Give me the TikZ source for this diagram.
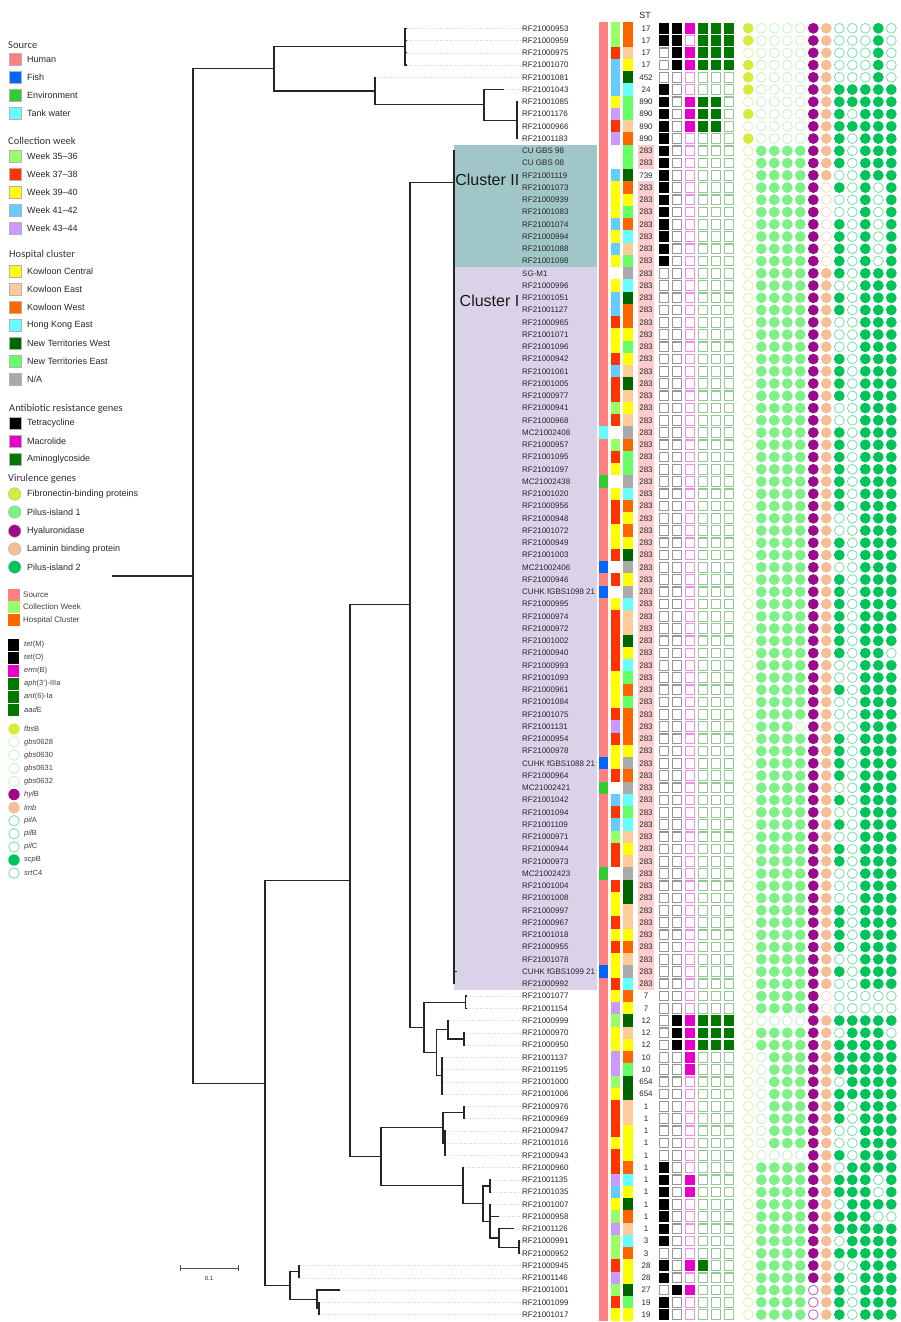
\documentclass[tikz,border=0pt]{standalone}
\usepackage{fontspec}
\setmainfont{Liberation Sans}
\newfontfamily\headfont{Carlito}
\usetikzlibrary{calc}

% strip colours
\definecolor{srcH}{RGB}{255,128,128}
\definecolor{srcF}{RGB}{0,102,255}
\definecolor{srcE}{RGB}{51,204,51}
\definecolor{srcT}{RGB}{102,255,255}
\definecolor{wka}{RGB}{153,255,102}
\definecolor{wkb}{RGB}{255,51,0}
\definecolor{wkc}{RGB}{255,255,0}
\definecolor{wkd}{RGB}{102,204,255}
\definecolor{wke}{RGB}{204,153,255}
\definecolor{wkn}{RGB}{255,255,255}
\definecolor{hcy}{RGB}{255,255,0}
\definecolor{hcp}{RGB}{255,204,153}
\definecolor{hco}{RGB}{255,102,0}
\definecolor{hch}{RGB}{102,255,255}
\definecolor{hcw}{RGB}{0,102,0}
\definecolor{hcg}{RGB}{102,255,102}
\definecolor{hcx}{RGB}{170,170,170}
% gene colours (f = present, e = absent ring)
\definecolor{tetf}{RGB}{0,0,0}
\definecolor{tete}{RGB}{150,150,150}
\definecolor{ermf}{RGB}{230,0,200}
\definecolor{erme}{RGB}{240,140,225}
\definecolor{amif}{RGB}{0,120,0}
\definecolor{amie}{RGB}{150,200,150}
\definecolor{fbsf}{RGB}{215,235,60}
\definecolor{fbse}{RGB}{230,242,170}
\definecolor{gbsf}{RGB}{125,240,135}
\definecolor{gbse}{RGB}{200,245,200}
\definecolor{hylf}{RGB}{155,10,140}
\definecolor{hyle}{RGB}{200,100,200}
\definecolor{lmbf}{RGB}{245,190,150}
\definecolor{lmbe}{RGB}{250,220,205}
\definecolor{pilf}{RGB}{0,195,90}
\definecolor{pile}{RGB}{130,225,175}
\definecolor{stpink}{RGB}{252,205,205}
\definecolor{clusII}{RGB}{160,198,200}
\definecolor{clusI}{RGB}{217,210,233}

% one square / circle of the gene table
\newcommand{\genesq}[4]{%
  \ifnum#2=1\relax \fill[#3] (#1-5.3,\ry-5.3) rectangle (#1+5.3,\ry+5.3);
  \else \draw[#4,line width=1.2pt] (#1-4.8,\ry-4.8) rectangle (#1+4.8,\ry+4.8);\fi}
\newcommand{\genecirc}[4]{%
  \ifnum#2=1\relax \fill[#3] (#1,\ry) circle[radius=5.4pt];
  \else \draw[#4,line width=0.9pt] (#1,\ry) circle[radius=4.9pt];\fi}
\def\sqcells#1#2#3#4#5#6{%
  \genesq{664}{#1}{tetf}{tete}\genesq{677}{#2}{tetf}{tete}%
  \genesq{690}{#3}{ermf}{erme}\genesq{703}{#4}{amif}{amie}%
  \genesq{716}{#5}{amif}{amie}\genesq{729}{#6}{amif}{amie}}
\def\circells#1#2#3#4#5#6#7#8#9{%
  \genecirc{748.3}{#1}{fbsf}{fbse}\genecirc{761.3}{#2}{gbsf}{gbse}%
  \genecirc{774.3}{#3}{gbsf}{gbse}\genecirc{787.3}{#4}{gbsf}{gbse}%
  \genecirc{800.3}{#5}{gbsf}{gbse}\genecirc{813.3}{#6}{hylf}{hyle}%
  \genecirc{826.3}{#7}{lmbf}{lmbe}\genecirc{839.3}{#8}{pilf}{pile}%
  \genecirc{852.3}{#9}{pilf}{pile}\circellsb}
\def\circellsb#1#2#3{%
  \genecirc{865.3}{#1}{pilf}{pile}\genecirc{878.3}{#2}{pilf}{pile}%
  \genecirc{891.3}{#3}{pilf}{pile}}
% row: number, tip x, label, source, week, hospital, ST, squares, circles
\newcommand{\leafrow}[9]{%
  \pgfmathsetmacro{\ry}{28.3+(#1-1)*12.25}%
  \coordinate (t#1) at (#2,\ry);
  \node[leaflab] (l#1) at (522,\ry) {#3};
  \ifnum#1<11 \draw[leafdot] (t#1) -- (l#1.west);\fi
  \ifnum#1>79 \draw[leafdot] (t#1) -- (l#1.west);\fi
  \fill[src#4] (599,\ry-6.13) rectangle (608,\ry+6.13);
  \fill[wk#5] (611,\ry-6.13) rectangle (620,\ry+6.13);
  \fill[hc#6] (623,\ry-6.13) rectangle (633,\ry+6.13);
  \ifnum#7=283 \fill[stpink] (638,\ry-6.13) rectangle (654,\ry+6.13);\fi
  \node[stlab] (s#1) at (646,\ry) {#7};
  \sqcells#8%
  \circells#9%
}

\begin{document}
\begin{tikzpicture}[x=1pt,y=-1pt,
  leaflab/.style={anchor=west,inner sep=0pt,text=black!85,font=\fontsize{8}{9}\selectfont},
  stlab/.style={inner sep=0pt,text=black!85,font=\fontsize{8}{9}\selectfont},
  leafdot/.style={black!18,dotted,line width=0.5pt},
  branch/.style={black!85,line width=1.2pt},
  headlab/.style={anchor=west,inner sep=0pt,text=black!80,font=\headfont\fontsize{10.5}{12}\selectfont},
  keylab/.style={anchor=west,inner sep=0pt,text=black!85,font=\fontsize{9}{10}\selectfont},
  smallkey/.style={anchor=west,inner sep=0pt,text=black!75,font=\fontsize{7.5}{9}\selectfont},
  clusterlab/.style={anchor=east,inner sep=0pt,text=black!90,font=\fontsize{16}{18}\selectfont}]
\useasboundingbox (0,0) rectangle (900,1322);
% cluster shading
\fill[clusII] (454,144.7) rectangle (597,267.2);
\fill[clusI] (454,267.2) rectangle (597,989.9);
\node[stlab,font=\fontsize{9}{10}\selectfont] (sthead) at (645,15) {ST};
% the leaves
\leafrow{1}{407}{RF21000953}{H}{a}{o}{17}{111111}{100001100010}
\leafrow{2}{407}{RF21000959}{H}{a}{o}{17}{110111}{100001100010}
\leafrow{3}{407}{RF21000975}{H}{b}{p}{17}{011111}{000001100010}
\leafrow{4}{407}{RF21001070}{H}{d}{y}{17}{011111}{100001100010}
\leafrow{5}{376}{RF21001081}{H}{d}{w}{452}{000000}{100001100010}
\leafrow{6}{504}{RF21001043}{H}{d}{h}{24}{100000}{100001111111}
\leafrow{7}{518}{RF21001085}{H}{c}{g}{890}{101110}{000001111111}
\leafrow{8}{518}{RF21001176}{H}{e}{g}{890}{101110}{100001110111}
\leafrow{9}{518}{RF21000966}{H}{b}{p}{890}{101110}{000001111111}
\leafrow{10}{518}{RF21001183}{H}{e}{o}{890}{100000}{100001110111}
%     cluster II
\leafrow{11}{455}{CU GBS 98}{H}{n}{g}{283}{100000}{011111110111}
\leafrow{12}{455}{CU GBS 08}{H}{n}{g}{283}{100000}{011111110111}
\leafrow{13}{455}{RF21001119}{H}{d}{w}{739}{100000}{011111100111}
\leafrow{14}{455}{RF21001073}{H}{c}{o}{283}{100000}{011111010101}
\leafrow{15}{455}{RF21000939}{H}{c}{y}{283}{100000}{011111000101}
\leafrow{16}{455}{RF21001083}{H}{c}{g}{283}{100000}{011111000101}
\leafrow{17}{455}{RF21001074}{H}{d}{o}{283}{100000}{011111010101}
\leafrow{18}{455}{RF21000994}{H}{c}{h}{283}{100000}{011111010101}
\leafrow{19}{455}{RF21001088}{H}{d}{p}{283}{100000}{011111010101}
\leafrow{20}{455}{RF21001098}{H}{c}{g}{283}{100000}{011111010101}
%     cluster I
\leafrow{21}{455}{SG-M1}{H}{n}{x}{283}{000000}{011111110111}
\leafrow{22}{455}{RF21000996}{H}{c}{h}{283}{000000}{011111100111}
\leafrow{23}{455}{RF21001051}{H}{d}{w}{283}{000000}{011111110111}
\leafrow{24}{455}{RF21001127}{H}{d}{o}{283}{000000}{011111110111}
\leafrow{25}{455}{RF21000965}{H}{b}{o}{283}{000000}{011111100111}
\leafrow{26}{455}{RF21001071}{H}{c}{y}{283}{000000}{011111100111}
\leafrow{27}{455}{RF21001096}{H}{c}{g}{283}{000000}{011111100111}
\leafrow{28}{455}{RF21000942}{H}{b}{y}{283}{000000}{011111110111}
\leafrow{29}{455}{RF21001061}{H}{d}{p}{283}{000000}{011111110111}
\leafrow{30}{455}{RF21001005}{H}{b}{w}{283}{000000}{011111110111}
\leafrow{31}{455}{RF21000977}{H}{b}{p}{283}{000000}{011111110111}
\leafrow{32}{455}{RF21000941}{H}{a}{y}{283}{000000}{011111100111}
\leafrow{33}{455}{RF21000968}{H}{b}{p}{283}{000000}{011111100111}
\leafrow{34}{455}{MC21002408}{T}{n}{x}{283}{000000}{011111110111}
\leafrow{35}{455}{RF21000957}{H}{a}{o}{283}{000000}{011111110111}
\leafrow{36}{455}{RF21001095}{H}{b}{g}{283}{000000}{011111110111}
\leafrow{37}{455}{RF21001097}{H}{c}{g}{283}{000000}{011111110111}
\leafrow{38}{455}{MC21002438}{E}{n}{x}{283}{000000}{011111110111}
\leafrow{39}{455}{RF21001020}{H}{c}{h}{283}{000000}{011111110111}
\leafrow{40}{455}{RF21000956}{H}{b}{o}{283}{000000}{011111110111}
\leafrow{41}{455}{RF21000948}{H}{b}{y}{283}{000000}{011111100111}
\leafrow{42}{455}{RF21001072}{H}{c}{o}{283}{000000}{011111100111}
\leafrow{43}{455}{RF21000949}{H}{c}{y}{283}{000000}{011111110111}
\leafrow{44}{455}{RF21001003}{H}{b}{w}{283}{000000}{011111110111}
\leafrow{45}{455}{MC21002406}{F}{n}{x}{283}{000000}{011111100111}
\leafrow{46}{455}{RF21000946}{H}{b}{y}{283}{000000}{011111110111}
\leafrow{47}{455}{CUHK fGBS1098 21}{F}{n}{x}{283}{000000}{011111110111}
\leafrow{48}{455}{RF21000995}{H}{c}{h}{283}{000000}{011111110111}
\leafrow{49}{455}{RF21000974}{H}{b}{p}{283}{000000}{011111110111}
\leafrow{50}{455}{RF21000972}{H}{b}{p}{283}{000000}{011111110111}
\leafrow{51}{455}{RF21001002}{H}{b}{w}{283}{000000}{011111110111}
\leafrow{52}{455}{RF21000940}{H}{b}{y}{283}{000000}{011111110110}
\leafrow{53}{455}{RF21000993}{H}{b}{h}{283}{000000}{011111100111}
\leafrow{54}{455}{RF21001093}{H}{c}{g}{283}{000000}{011111100111}
\leafrow{55}{455}{RF21000961}{H}{c}{o}{283}{000000}{011111110111}
\leafrow{56}{455}{RF21001084}{H}{c}{g}{283}{000000}{011111100111}
\leafrow{57}{455}{RF21001075}{H}{b}{o}{283}{000000}{011111100111}
\leafrow{58}{455}{RF21001131}{H}{e}{o}{283}{000000}{011101100111}
\leafrow{59}{455}{RF21000954}{H}{b}{o}{283}{000000}{011111110111}
\leafrow{60}{455}{RF21000978}{H}{c}{y}{283}{000000}{011111110111}
\leafrow{61}{455}{CUHK fGBS1088 21}{F}{c}{x}{283}{000000}{011111110111}
\leafrow{62}{455}{RF21000964}{H}{b}{o}{283}{000000}{011111110111}
\leafrow{63}{455}{MC21002421}{E}{n}{x}{283}{000000}{011111100111}
\leafrow{64}{455}{RF21001042}{H}{d}{h}{283}{000000}{011111110111}
\leafrow{65}{455}{RF21001094}{H}{b}{g}{283}{000000}{011111100111}
\leafrow{66}{455}{RF21001109}{H}{d}{h}{283}{000000}{011111110111}
\leafrow{67}{455}{RF21000971}{H}{a}{p}{283}{000000}{011111100111}
\leafrow{68}{455}{RF21000944}{H}{b}{y}{283}{000000}{011111110111}
\leafrow{69}{455}{RF21000973}{H}{b}{p}{283}{000000}{011111110111}
\leafrow{70}{455}{MC21002423}{E}{n}{x}{283}{000000}{011111100111}
\leafrow{71}{455}{RF21001004}{H}{b}{w}{283}{000000}{011111100111}
\leafrow{72}{455}{RF21001008}{H}{c}{w}{283}{000000}{011111100111}
\leafrow{73}{455}{RF21000997}{H}{c}{p}{283}{000000}{011111110111}
\leafrow{74}{455}{RF21000967}{H}{b}{p}{283}{000000}{011111110111}
\leafrow{75}{455}{RF21001018}{H}{c}{y}{283}{000000}{011111110111}
\leafrow{76}{455}{RF21000955}{H}{b}{o}{283}{000000}{011111110111}
\leafrow{77}{455}{RF21001078}{H}{c}{p}{283}{000000}{011111100111}
\leafrow{78}{457}{CUHK fGBS1099 21}{F}{c}{x}{283}{000000}{011111110111}
\leafrow{79}{455}{RF21000992}{H}{b}{h}{283}{000000}{011111100111}
%     below the clusters
\leafrow{80}{467}{RF21001077}{H}{c}{o}{7}{000000}{011111000000}
\leafrow{81}{467}{RF21001154}{H}{e}{y}{7}{000000}{011111000000}
\leafrow{82}{449}{RF21000999}{H}{a}{w}{12}{011111}{000001111111}
\leafrow{83}{465}{RF21000970}{H}{c}{p}{12}{011111}{011111101110}
\leafrow{84}{465}{RF21000950}{H}{c}{y}{12}{011111}{011111111111}
\leafrow{85}{443}{RF21001137}{H}{e}{o}{10}{001000}{001111111111}
\leafrow{86}{443}{RF21001195}{H}{e}{g}{10}{001000}{001111111111}
\leafrow{87}{443}{RF21001000}{H}{a}{w}{654}{000000}{001111101111}
\leafrow{88}{443}{RF21001006}{H}{c}{w}{654}{000000}{001111111111}
\leafrow{89}{465}{RF21000976}{H}{b}{p}{1}{000000}{001111110111}
\leafrow{90}{465}{RF21000969}{H}{b}{p}{1}{000000}{001111110111}
\leafrow{91}{446}{RF21000947}{H}{b}{y}{1}{000000}{001111100111}
\leafrow{92}{446}{RF21001016}{H}{c}{y}{1}{000000}{001111100111}
\leafrow{93}{446}{RF21000943}{H}{b}{y}{1}{000000}{000001110111}
\leafrow{94}{464}{RF21000960}{H}{b}{o}{1}{100000}{011111101111}
\leafrow{95}{491}{RF21001135}{H}{e}{h}{1}{101000}{011111111101}
\leafrow{96}{491}{RF21001035}{H}{d}{y}{1}{101000}{011111111101}
\leafrow{97}{491}{RF21001007}{H}{c}{w}{1}{100000}{011111101111}
\leafrow{98}{499}{RF21000958}{H}{a}{o}{1}{100000}{011111111100}
\leafrow{99}{514}{RF21001126}{H}{e}{p}{1}{100000}{011111111111}
\leafrow{100}{520}{RF21000991}{H}{a}{h}{3}{100000}{011111101111}
\leafrow{101}{520}{RF21000952}{H}{a}{o}{3}{000000}{011111111111}
\leafrow{102}{300}{RF21000945}{H}{b}{y}{28}{101100}{011111100111}
\leafrow{103}{300}{RF21001146}{H}{e}{y}{28}{100000}{011111110111}
\leafrow{104}{340}{RF21001001}{H}{a}{w}{27}{011000}{011110110111}
\leafrow{105}{320}{RF21001099}{H}{b}{g}{19}{100000}{011110110111}
\leafrow{106}{320}{RF21001017}{H}{c}{y}{19}{100000}{011110110111}
% inner nodes of the tree
\coordinate (stub) at (112,576);
\coordinate (root) at (193,576);
\coordinate (nA) at (405,46.68);
\coordinate (nB) at (517,120.18);
\coordinate (nC) at (484,104.86);
\coordinate (nD) at (375,91.08);
\coordinate (nE) at (274,68.88);
\coordinate (nF) at (265,1083.11);
\coordinate (nS) at (350,880.76);
\coordinate (nM) at (410,604.87);
\coordinate (nK) at (454,182.3);
\coordinate (nL) at (424,1027.44);
\coordinate (nG) at (465.7,1002.18);
\coordinate (nJ) at (436.7,1052.7);
\coordinate (nH) at (448,1029.74);
\coordinate (nH1) at (464,1038.93);
\coordinate (nI) at (442,1075.68);
\coordinate (nR) at (381,1156.65);
\coordinate (nP) at (443,1127.74);
\coordinate (nP1) at (464,1112.43);
\coordinate (nP2) at (445,1143.05);
\coordinate (nQ) at (463,1185.55);
\coordinate (nQ5) at (483,1203.54);
\coordinate (nQ1) at (490,1185.93);
\coordinate (nQ4) at (490,1221.15);
\coordinate (nQ2) at (499,1237.99);
\coordinate (nQ3) at (519,1247.18);
\coordinate (nT) at (290,1285.46);
\coordinate (nT1) at (299,1271.68);
\coordinate (nT2) at (317,1299.24);
\coordinate (nT3) at (319,1308.43);
% branches
\draw[branch] (stub) -- (root);
\draw[branch] (root) |- (nE) (root) |- (nF);
\draw[branch] (nE) |- (nA) (nE) |- (nD);
\foreach \k in {1,...,4} \draw[branch] (nA) |- (t\k);
\draw[branch] (nD) |- (t5) (nD) |- (nC);
\draw[branch] (nC) |- (t6) (nC) |- (nB);
\foreach \k in {7,...,10} \draw[branch] (nB) |- (t\k);
\draw[branch] (nF) |- (nS) (nF) |- (nT);
\draw[branch] (nS) |- (nM) (nS) |- (nR);
\draw[branch] (nM) |- (nK) (nM) |- (nL);
\foreach \k in {11,...,79} \draw[branch] (nK) |- (t\k);
\draw[branch] (nL) |- (nG) (nL) |- (nJ);
\draw[branch] (nG) |- (t80) (nG) |- (t81);
\draw[branch] (nJ) |- (nH) (nJ) |- (nI);
\draw[branch] (nH) |- (t82) (nH) |- (nH1);
\draw[branch] (nH1) |- (t83) (nH1) |- (t84);
\foreach \k in {85,...,88} \draw[branch] (nI) |- (t\k);
\draw[branch] (nR) |- (nP) (nR) |- (nQ);
\draw[branch] (nP) |- (nP1) (nP) |- (nP2);
\draw[branch] (nP1) |- (t89) (nP1) |- (t90);
\foreach \k in {91,92,93} \draw[branch] (nP2) |- (t\k);
\draw[branch] (nQ) |- (t94) (nQ) |- (nQ5);
\draw[branch] (nQ5) |- (nQ1) (nQ5) |- (nQ4);
\draw[branch] (nQ1) |- (t95) (nQ1) |- (t96);
\draw[branch] (nQ4) |- (t97) (nQ4) |- (t98) (nQ4) |- (nQ2);
\draw[branch] (nQ2) |- (t99) (nQ2) |- (nQ3);
\draw[branch] (nQ3) |- (t100) (nQ3) |- (t101);
\draw[branch] (nT) |- (nT1) (nT) |- (nT2);
\draw[branch] (nT1) |- (t102) (nT1) |- (t103);
\draw[branch] (nT2) |- (t104) (nT2) |- (nT3);
\draw[branch] (nT3) |- (t105) (nT3) |- (t106);
\node[clusterlab] (cII) at (519.5,180) {Cluster II};
\node[clusterlab] (cI) at (519.5,301) {Cluster I};
% scale bar
\coordinate (sb1) at (180,1268);
\coordinate (sb2) at (238,1268);
\draw[black!70,line width=0.6pt] (sb1) -- (sb2) ($(sb1)+(0,-3)$) -- ($(sb1)+(0,3)$) ($(sb2)+(0,-3)$) -- ($(sb2)+(0,3)$);
\node[stlab,font=\fontsize{6}{7}\selectfont] (sblab) at (209,1278) {0.1};
% legend
\node[headlab] (hSrc) at (8,45) {Source};
\foreach \yy/\cc/\lbl [count=\i] in {59/srcH/Human,77/srcF/Fish,95/srcE/Environment,113/srcT/Tank water}{
  \fill[\cc,draw=black!30] (9,\yy-6) rectangle (21,\yy+6);
  \node[keylab] (kSrc\i) at (27,\yy) {\lbl};}
\node[headlab] (hWk) at (8,141) {Collection week};
\foreach \yy/\cc/\lbl [count=\i] in {156/wka/Week 35--36,174/wkb/Week 37--38,192/wkc/Week 39--40,210/wkd/Week 41--42,228/wke/Week 43--44}{
  \fill[\cc,draw=black!30] (9,\yy-6) rectangle (21,\yy+6);
  \node[keylab] (kWk\i) at (27,\yy) {\lbl};}
\node[headlab] (hHc) at (9,255) {Hospital cluster};
\foreach \yy/\cc/\lbl [count=\i] in {271/hcy/Kowloon Central,289/hcp/Kowloon East,307/hco/Kowloon West,325/hch/Hong Kong East,343/hcw/New Territories West,361/hcg/New Territories East}{
  \fill[\cc,draw=black!30] (9,\yy-6) rectangle (21,\yy+6);
  \node[keylab] (kHc\i) at (27,\yy) {\lbl};}
\fill[hcx,draw=black!30] (9,373) rectangle (21,385);
\node[keylab] (kHcNA) at (27,379) {N/A};
\node[headlab] (hAb) at (9,409) {Antibiotic resistance genes};
\foreach \yy/\cc/\lbl [count=\i] in {423/tetf/Tetracycline,441/ermf/Macrolide,459/amif/Aminoglycoside}{
  \fill[\cc,draw=black!30] (9,\yy-6) rectangle (21,\yy+6);
  \node[keylab] (kAb\i) at (27,\yy) {\lbl};}
\node[headlab] (hVir) at (8,479) {Virulence genes};
\foreach \yy/\cc/\lbl [count=\i] in {494/fbsf/Fibronectin-binding proteins,512/gbsf/Pilus-island 1,531/hylf/Hyaluronidase,549/lmbf/Laminin binding protein,567/pilf/Pilus-island 2}{
  \fill[\cc,draw=black!30] (14.7,\yy) circle[radius=6.3pt];
  \node[keylab] (kVir\i) at (27,\yy) {\lbl};}
% small key
\foreach \yy/\cc/\lbl [count=\i] in {595/srcH/Source,607/wka/Collection Week,620/hco/Hospital Cluster}{
  \fill[\cc] (8,\yy-5.6) rectangle (20,\yy+5.6);
  \node[smallkey,font=\fontsize{8}{9}\selectfont] (kStrip\i) at (23,\yy) {\lbl};}
\foreach \yy/\cc/\lbl [count=\i] in {645/tetf/\textit{tet}(M),658/tetf/\textit{tet}(O),671/ermf/\textit{erm}(B),684/amif/\textit{aph}(3')-IIIa,697/amif/\textit{ant}(6)-Ia,710/amif/\textit{aad}E}{
  \fill[\cc] (8,\yy-5.9) rectangle (19,\yy+5.9);
  \node[smallkey] (kRes\i) at (24,\yy) {\lbl};}
\foreach \yy/\cc/\ff/\lbl [count=\i] in {729/fbsf/1/\textit{fbs}B,742.1/gbse/0/\textit{gbs}0628,755.2/gbse/0/\textit{gbs}0630,768.3/gbse/0/\textit{gbs}0631,781.4/gbse/0/\textit{gbs}0632,794.5/hylf/1/\textit{hyl}B,807.6/lmbf/1/\textit{lmb},820.7/pile/0/\textit{pil}A,833.8/pile/0/\textit{pil}B,846.9/pile/0/\textit{pil}C,860/pilf/1/\textit{scp}B,873.1/pile/0/\textit{srt}C4}{
  \ifnum\ff=1 \fill[\cc] (14,\yy) circle[radius=5.7pt];
  \else \draw[\cc,line width=0.9pt] (14,\yy) circle[radius=5.2pt];\fi
  \node[smallkey] (kVg\i) at (24,\yy) {\lbl};}
\end{tikzpicture}
\end{document}
